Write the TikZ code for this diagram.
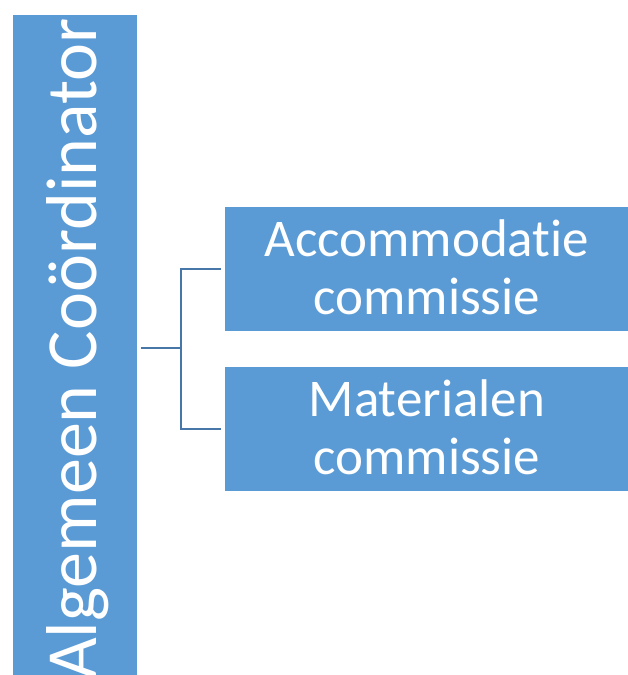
\documentclass[tikz,border=0pt]{standalone}
\usepackage{fontspec}
\setmainfont{Carlito}[Ligatures=NoCommon]
\definecolor{boxblue}{HTML}{5B9BD5}
\definecolor{linkblue}{HTML}{4677A8}
\newcommand{\lowdepth}{\rule[-4pt]{0pt}{4pt}}
\begin{document}
\begin{tikzpicture}[x=1pt,y=-1pt,
  boxstyle/.style={draw=white,line width=0.6pt,fill=boxblue,text=white,inner sep=0pt,align=center},
  subbox/.style={boxstyle,minimum width=405pt,minimum height=125pt,anchor=north west,font=\fontsize{53}{58}\selectfont},
  linkstyle/.style={draw=linkblue,line width=2pt}]
\useasboundingbox (0,0) rectangle (628,675);
\begin{scope}
\clip (0,0) rectangle (628,675);
\node[boxstyle,minimum width=125pt,minimum height=676pt,anchor=north west] (bar) at (12,14) {};
\node[text=white,inner sep=0pt,rotate=90,anchor=base east,font=\fontsize{72}{86}\selectfont] (bartext) at (96,18) {Algemeen Coördinator};
\end{scope}
\node[subbox] (acc) at (224,206) {Accommodatie\\commissie\lowdepth};
\node[subbox] (mat) at (224,366) {Materialen\\commissie\lowdepth};
\coordinate (j) at (181,348);
\draw[linkstyle] ([xshift=3pt]bar.east |- j) -- (j);
\draw[linkstyle] ([xshift=-3pt]acc.west) -| (j) |- ([xshift=-3pt]mat.west);
\end{tikzpicture}
\end{document}
